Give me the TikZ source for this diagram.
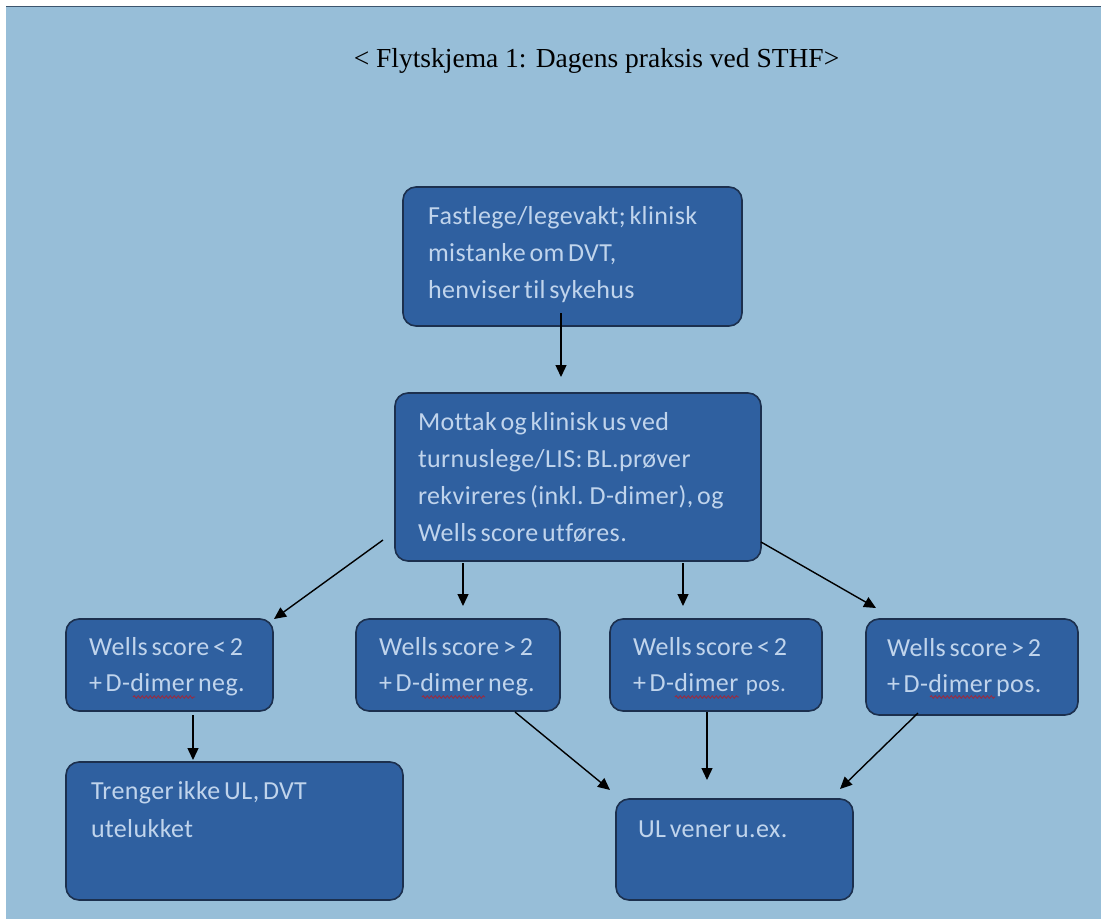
\documentclass[tikz,border=0pt]{standalone}
\usepackage{fontspec}
\setmainfont{Liberation Serif}
\newfontfamily\calfont[Ligatures=NoCommon, LetterSpace=1.5, WordSpace=0.6]{Carlito}
\usetikzlibrary{arrows.meta,calc,decorations.pathmorphing}
\definecolor{bgblue}{RGB}{151,190,216}
\definecolor{boxfill}{RGB}{47,96,160}
\definecolor{boxline}{RGB}{28,48,78}
\definecolor{boxtext}{RGB}{192,212,236}
\definecolor{topline}{RGB}{60,85,110}
\definecolor{squig}{RGB}{160,40,60}
\newcommand\tl[2]{{\fontsize{26}{#1}\selectfont\begin{tabular}[t]{@{}l@{}}#2\end{tabular}}}
\begin{document}
\begin{tikzpicture}[x=1pt,y=-1pt,
  box/.style={draw=boxline, line width=1.6pt, fill=boxfill, rounded corners=13pt,
    anchor=north west, inner sep=0pt, outer sep=0pt},
  txt/.style={anchor=base west, inner sep=0pt, outer sep=0pt, text=boxtext, font=\calfont},
  arr/.style={line width=1.4pt, -{Triangle[length=12pt,width=11pt]}},
  wavy/.style={draw=squig, line width=0.8pt, decorate,
    decoration={snake, amplitude=1.3pt, segment length=4pt}}]
\useasboundingbox (0,0) rectangle (1104,919);
\fill[white] (0,0) rectangle (1104,919);
\fill[bgblue] (6,6) rectangle (1101,919);
\draw[topline, line width=1.5pt] (6,6.5) -- (1101,6.5);

\node[anchor=base, inner sep=0pt, font=\fontsize{27.5}{30}\selectfont] (title) at (596.5,67)
  {< Flytskjema 1: Dagens praksis ved STHF>};

% boxes
\node[box, minimum width=339pt, minimum height=139pt] (b1) at (403,187) {};
\node[box, minimum width=366pt, minimum height=168pt] (b2) at (395,393) {};
\node[box, minimum width=207pt, minimum height=92pt] (b3a) at (66,619) {};
\node[box, minimum width=204pt, minimum height=92pt] (b3b) at (356,619) {};
\node[box, minimum width=212pt, minimum height=92pt] (b3c) at (610,619) {};
\node[box, minimum width=212pt, minimum height=96pt] (b3d) at (866,619) {};
\node[box, minimum width=337pt, minimum height=138pt] (b4a) at (66,762) {};
\node[box, minimum width=237pt, minimum height=101pt] (b4b) at (616,799) {};

% texts
\node[txt] (t1) at (428,224) {\tl{37}{Fastlege/legevakt; klinisk\\mistanke om DVT,\\henviser til sykehus}};
\node[txt] (t2) at (418,430) {\tl{37.2}{Mottak og klinisk us ved\\turnuslege/LIS: BL.prøver\\rekvireres (inkl. D-dimer), og\\Wells score utføres.}};
\node[txt] (t3a) at (89,655) {\tl{36}{Wells score < 2\\+ D-dimer neg.}};
\node[txt] (t3b) at (379,655) {\tl{36}{Wells score > 2\\+ D-dimer neg.}};
\node[txt] (t3c) at (633,655) {\tl{36}{Wells score < 2\\+ D-dimer\ \ {\fontsize{23}{36}\selectfont pos.}}};
\node[txt] (t3d) at (887,656) {\tl{36}{Wells score > 2\\+ D-dimer pos.}};
\node[txt] (t4a) at (91,799) {\tl{38}{Trenger ikke UL, DVT\\utelukket}};
\node[txt] (t4b) at (638,837) {\tl{37}{UL vener u.ex.}};

% spell-check squiggles
\draw[wavy] (133,697) -- (195,697);
\draw[wavy] (422,697) -- (485,697);
\draw[wavy] (675,697) -- (739,697);
\draw[wavy] (930,697) -- (995,697);

% connectors
\draw[arr] ($(b1.north west)+(158,126)$) -- ($(b2.north west)+(166,-16)$);
\draw[arr] ($(b2.north west)+(-12,147)$) -- ($(b3a.north east)+(1,0)$);
\draw[arr] ($(b2.north west)+(68,170)$) -- ($(b3b.north west)+(107,-13)$);
\draw[arr] ($(b2.north west)+(288,170)$) -- ($(b3c.north west)+(73,-13)$);
\draw[arr] ($(b2.north west)+(366,149)$) -- ($(b3d.north west)+(10,-11)$);
\draw[arr] ($(b3a.north west)+(127,96)$) -- ($(b4a.north west)+(127,-2)$);
\draw[arr] ($(b3b.north west)+(159,93)$) -- ($(b4b.north west)+(-6,-9)$);
\draw[arr] ($(b3c.north west)+(97,93)$) -- ($(b4b.north west)+(91,-19)$);
\draw[arr] ($(b3d.north west)+(52,94)$) -- ($(b4b.north west)+(224,-10)$);
\end{tikzpicture}
\end{document}
